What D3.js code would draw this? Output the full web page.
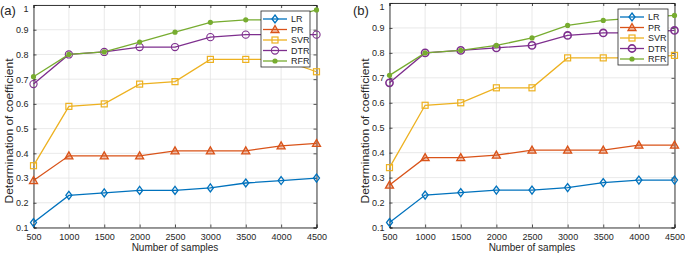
<!DOCTYPE html>
<html>
<head>
<meta charset="utf-8">
<script src="https://cdn.jsdelivr.net/npm/d3@7"></script>
<style>
  body { margin: 0; background: #fff; }
  text { font-family: "Liberation Sans", Arial, sans-serif; fill: #262626; }
</style>
</head>
<body>
<div id="chartVis"></div>
<script>
// data
const samples = [500, 1000, 1500, 2000, 2500, 3000, 3500, 4000, 4500];
const yTicks = [0.1, 0.2, 0.3, 0.4, 0.5, 0.6, 0.7, 0.8, 0.9, 1];
const seriesNames = ["LR", "PR", "SVR", "DTR", "RFR"];
const colors = ["#0072BD", "#D95319", "#EDB120", "#7E2F8E", "#77AC30"];

// panel (a)
const lrA  = [0.12, 0.23, 0.24, 0.25, 0.25, 0.26, 0.28, 0.29, 0.30];
const prA  = [0.29, 0.39, 0.39, 0.39, 0.41, 0.41, 0.41, 0.43, 0.44];
const svrA = [0.35, 0.59, 0.60, 0.68, 0.69, 0.78, 0.78, 0.78, 0.73];
const dtrA = [0.68, 0.80, 0.81, 0.83, 0.83, 0.87, 0.88, 0.88, 0.88];
const rfrA = [0.71, 0.80, 0.81, 0.85, 0.89, 0.93, 0.94, 0.94, 0.98];

// panel (b)
const lrB  = [0.12, 0.23, 0.24, 0.25, 0.25, 0.26, 0.28, 0.29, 0.29];
const prB  = [0.27, 0.38, 0.38, 0.39, 0.41, 0.41, 0.41, 0.43, 0.43];
const svrB = [0.34, 0.59, 0.60, 0.66, 0.66, 0.78, 0.78, 0.78, 0.79];
const dtrB = [0.68, 0.80, 0.81, 0.82, 0.83, 0.87, 0.88, 0.88, 0.89];
const rfrB = [0.71, 0.80, 0.81, 0.83, 0.86, 0.91, 0.93, 0.94, 0.95];

var width = 685;
var height = 255;

var svg = d3.select("#chartVis")
  .append("svg")
  .attr("width", width)
  .attr("height", height);

const axisColor = "#262626";
const gridColor = "#e3e3e3";

function drawMarker(g, kind, x, y, color, sw) {
  if (kind === "LR") {
    g.append("path")
      .attr("d", "M" + x + "," + (y - 4) + "L" + (x + 3) + "," + y + "L" + x + "," + (y + 4) + "L" + (x - 3) + "," + y + "Z")
      .attr("fill", "none").attr("stroke", color).attr("stroke-width", 1.3);
  } else if (kind === "PR") {
    g.append("path")
      .attr("d", "M" + x + "," + (y - 4) + "L" + (x + 4) + "," + (y + 3) + "L" + (x - 4) + "," + (y + 3) + "Z")
      .attr("fill", color).attr("fill-opacity", 0.35).attr("stroke", color).attr("stroke-width", 1.3);
  } else if (kind === "SVR") {
    g.append("rect")
      .attr("x", x - 3).attr("y", y - 3).attr("width", 6).attr("height", 6)
      .attr("fill", "none").attr("stroke", color).attr("stroke-width", 1.2);
  } else if (kind === "DTR") {
    g.append("circle")
      .attr("cx", x).attr("cy", y).attr("r", 3.6)
      .attr("fill", "none").attr("stroke", color).attr("stroke-width", sw || 1.2);
  } else {
    g.append("circle")
      .attr("cx", x).attr("cy", y).attr("r", 2.6)
      .attr("fill", color).attr("stroke", "none");
  }
}

function drawPanel(p) {
  let g = svg.append("g");
  let xScale = d3.scaleLinear().domain([500, 4500]).range([p.left, p.right]);
  let yScale = d3.scaleLinear().domain([0.1, 1]).range([p.bottom, p.top]);

  // grid
  g.append("g").selectAll("line").data(samples).enter().append("line")
    .attr("x1", d => xScale(d)).attr("x2", d => xScale(d))
    .attr("y1", p.top).attr("y2", p.bottom)
    .attr("stroke", gridColor).attr("stroke-width", 0.8);
  g.append("g").selectAll("line").data(yTicks).enter().append("line")
    .attr("x1", p.left).attr("x2", p.right)
    .attr("y1", d => yScale(d)).attr("y2", d => yScale(d))
    .attr("stroke", gridColor).attr("stroke-width", 0.8);

  // axes with inward ticks
  let xAxis = d3.axisBottom(xScale).tickValues(samples).tickSize(-3).tickPadding(6).tickFormat(d3.format("d"));
  let yAxis = d3.axisLeft(yScale).tickValues(yTicks).tickSize(-3).tickPadding(5).tickFormat(d => d === 1 ? "1" : d3.format(".1f")(d));
  let xTop = d3.axisTop(xScale).tickValues(samples).tickSize(-3).tickFormat("");
  let yRight = d3.axisRight(yScale).tickValues(yTicks).tickSize(-3).tickFormat("");

  [
    [xAxis, "translate(0," + p.bottom + ")"],
    [yAxis, "translate(" + p.left + ",0)"],
    [xTop, "translate(0," + p.top + ")"],
    [yRight, "translate(" + p.right + ",0)"]
  ].forEach(a => {
    let ax = g.append("g").attr("transform", a[1]).call(a[0]);
    ax.select(".domain").attr("stroke", axisColor).attr("stroke-width", 0.9);
    ax.selectAll(".tick line").attr("stroke", axisColor).attr("stroke-width", 0.8);
    ax.selectAll(".tick text").attr("font-size", 9).attr("font-family", "Liberation Sans, Arial, sans-serif").attr("fill", axisColor);
  });
  // keep the top "1" label inside the page
  g.selectAll(".tick text").filter(d => d === 1).attr("dy", "0.75em");

  // lines and markers
  p.series.forEach((vals, i) => {
    let line = d3.line().x((d, j) => xScale(samples[j])).y(d => yScale(d));
    g.append("path").datum(vals)
      .attr("d", line)
      .attr("fill", "none")
      .attr("stroke", colors[i])
      .attr("stroke-width", 1.3);
    let mg = g.append("g");
    vals.forEach((v, j) => drawMarker(mg, seriesNames[i], xScale(samples[j]), yScale(v), colors[i], p.dtrWidth));
  });

  // legend
  let lg = g.append("g");
  lg.append("rect")
    .attr("x", p.legX).attr("y", p.legY).attr("width", p.legW).attr("height", 56)
    .attr("fill", "#fff").attr("stroke", "#262626").attr("stroke-width", 0.8);
  seriesNames.forEach((name, i) => {
    let yy = p.legY + 8 + i * 10.5;
    lg.append("line")
      .attr("x1", p.legX + 2).attr("x2", p.legX + 26)
      .attr("y1", yy).attr("y2", yy)
      .attr("stroke", colors[i]).attr("stroke-width", 1.3);
    drawMarker(lg, name, p.legX + 14, yy, colors[i], p.dtrWidth);
    lg.append("text")
      .attr("x", p.legX + 30).attr("y", yy + 3.2)
      .attr("font-size", 9)
      .text(name);
  });

  // labels
  g.append("text")
    .attr("x", (p.left + p.right) / 2).attr("y", 251)
    .attr("text-anchor", "middle")
    .attr("font-size", 10)
    .text("Number of samples");

  g.append("text")
    .attr("transform", "translate(" + p.yLabX + ",131) rotate(-90)")
    .attr("text-anchor", "middle")
    .attr("font-size", 10.5)
    .attr("textLength", 145)
    .attr("lengthAdjust", "spacingAndGlyphs")
    .text("Determination of coefficient");

  g.append("text")
    .attr("x", p.tagX).attr("y", 15)
    .attr("font-size", 13)
    .text(p.tag);
}

drawPanel({
  left: 33.5, right: 316.5, top: 5, bottom: 227.5,
  series: [lrA, prA, svrA, dtrA, rfrA],
  legX: 261, legY: 11, legW: 49,
  yLabX: 13, tagX: 0, tag: "(a)", dtrWidth: 1.1
});

drawPanel({
  left: 389.5, right: 674.5, top: 3, bottom: 227.5,
  series: [lrB, prB, svrB, dtrB, rfrB],
  legX: 618, legY: 9, legW: 50,
  yLabX: 369, tagX: 353, tag: "(b)", dtrWidth: 1.6
});
</script>
</body>
</html>
